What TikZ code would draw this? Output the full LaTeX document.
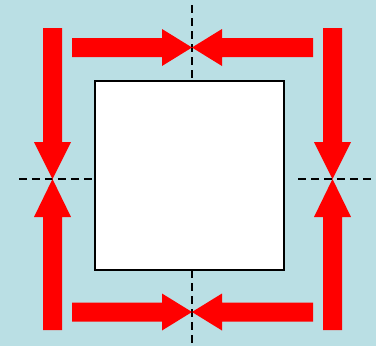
\documentclass[tikz,border=0pt]{standalone}
\definecolor{bgblue}{RGB}{186,223,228}
\tikzset{
  redarrow/.style={fill=red, draw=none},
  guide/.style={draw=black, line width=1.8pt, dash pattern=on 8pt off 5pt},
  squarebox/.style={draw=black, line width=1.6pt, fill=white, minimum width=189pt, minimum height=189pt, inner sep=0pt, outer sep=0pt}
}
\begin{document}
\begin{tikzpicture}[x=1pt,y=-1pt]
\fill[bgblue] (0,0) rectangle (376,346);
\useasboundingbox (0,0) rectangle (376,346);
% dashed guides
\coordinate (gt) at (192,5);
\coordinate (gb) at (192,346);
\coordinate (gl) at (19,179);
\coordinate (grs) at (298,179);
\coordinate (gr) at (374,179);
\node[squarebox] (box) at (189.5,175.5) {};
\draw[guide] (gt) -- (box.north -| gt);
\draw[guide] (box.south -| gb) -- (gb);
\draw[guide] (gl) -- (box.west |- gl);
\draw[guide] (grs) -- (gr);
% top arrows
\fill[redarrow] (72,38) -- (162,38) -- (162,29) -- (192,47.5) -- (162,66) -- (162,57) -- (72,57) -- cycle;
\fill[redarrow] (313,38) -- (222,38) -- (222,29) -- (192,47.5) -- (222,66) -- (222,57) -- (313,57) -- cycle;
% bottom arrows
\fill[redarrow] (72,302.5) -- (162,302.5) -- (162,293.5) -- (192,312) -- (162,330.5) -- (162,321.5) -- (72,321.5) -- cycle;
\fill[redarrow] (313,302.5) -- (222,302.5) -- (222,293.5) -- (192,312) -- (222,330.5) -- (222,321.5) -- (313,321.5) -- cycle;
% left arrows
\fill[redarrow] (43,28) -- (43,142) -- (34,142) -- (52.5,179) -- (71,142) -- (62,142) -- (62,28) -- cycle;
\fill[redarrow] (43,330) -- (43,217) -- (34,217) -- (52.5,179) -- (71,217) -- (62,217) -- (62,330) -- cycle;
% right arrows
\fill[redarrow] (323,28) -- (323,142) -- (314,142) -- (332.5,179) -- (351,142) -- (342,142) -- (342,28) -- cycle;
\fill[redarrow] (323,330) -- (323,217) -- (314,217) -- (332.5,179) -- (351,217) -- (342,217) -- (342,330) -- cycle;
\end{tikzpicture}
\end{document}
